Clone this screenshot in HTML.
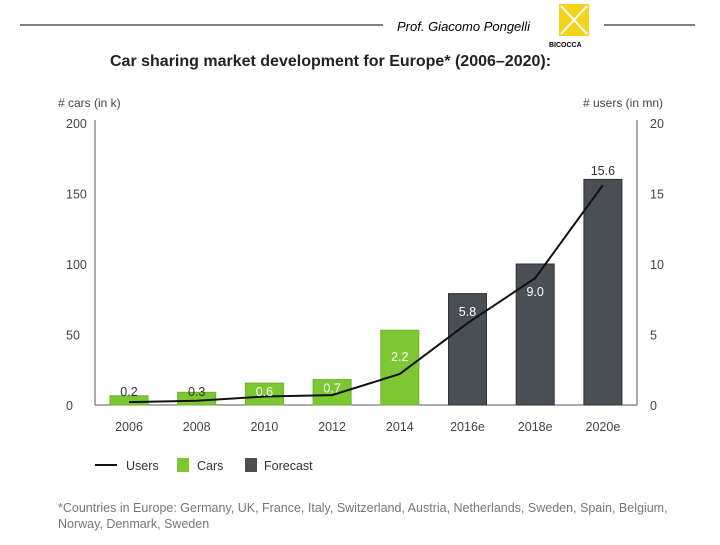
<!DOCTYPE html>
<html><head><meta charset="utf-8"><style>
body{margin:0;background:#fff;width:720px;height:540px;overflow:hidden;font-family:"Liberation Sans",sans-serif}
</style></head><body>
<svg width="720" height="540" font-family="Liberation Sans, sans-serif">
<line x1="20" y1="25" x2="383" y2="25" stroke="#000" stroke-width="1"/>
<line x1="604" y1="25" x2="695" y2="25" stroke="#000" stroke-width="1"/>
<text x="397" y="31" font-size="13" font-style="italic" fill="#000">Prof. Giacomo Pongelli</text>
<g>
<rect x="559" y="4" width="30" height="32" fill="#f5d21c"/>
<path d="M561 6 L587 34 M587 6 L561 34" stroke="#fff" stroke-width="2"/>
<text x="549" y="47" font-size="7" font-weight="bold" fill="#000">BICOCCA</text>
</g>
<text x="110" y="66" font-size="16" font-weight="bold" fill="#222">Car sharing market development for Europe* (2006–2020):</text>
<text x="58" y="107" font-size="12" fill="#444"># cars (in k)</text>
<text x="663" y="107" font-size="12" fill="#444" text-anchor="end"># users (in mn)</text>
<g id="ticks"></g>
<g id="bars"></g>
<g id="line"></g>
<g id="labels"></g>
<g>
<line x1="95" y1="465" x2="117" y2="465" stroke="#111" stroke-width="2"/>
<text x="126" y="470" font-size="12.5" fill="#333">Users</text>
<rect x="177" y="458" width="12" height="14" fill="#7dc832"/>
<text x="197" y="470" font-size="12.5" fill="#333">Cars</text>
<rect x="245" y="458" width="12" height="14" fill="#4a4f56"/>
<text x="264" y="470" font-size="12.5" fill="#333">Forecast</text>
</g>
<text x="58" y="512" font-size="12.5" fill="#777">*Countries in Europe: Germany, UK, France, Italy, Switzerland, Austria, Netherlands, Sweden, Spain, Belgium,</text>
<text x="58" y="528" font-size="12.5" fill="#777">Norway, Denmark, Sweden</text>
</svg>
<script>
const categories=["2006","2008","2010","2012","2014","2016e","2018e","2020e"];
const cars=[6.5,9,15.5,18,53,79,100,160];
const users=[0.2,0.3,0.6,0.7,2.2,5.8,9.0,15.6];
const forecast=[false,false,false,false,false,true,true,true];
const leftTicks=[0,50,100,150,200];
const rightTicks=[0,5,10,15,20];
const NS="http://www.w3.org/2000/svg";
const x0=95,x1=637,y0=405,yTop=123;
const yL=v=>y0-(v/200)*(y0-yTop);
const yR=v=>y0-(v/20)*(y0-yTop);
const step=67.7;
const xC=i=>129+i*step;
function mk(t,a,p){const e=document.createElementNS(NS,t);for(const k in a)e.setAttribute(k,a[k]);document.getElementById(p).appendChild(e);return e;}
const ax1=mk('line',{x1:x0,y1:yTop-3,x2:x0,y2:y0,stroke:'#555'},'ticks');


const ax2=mk('line',{x1:x1,y1:yTop-3,x2:x1,y2:y0,stroke:'#555'},'ticks');


leftTicks.forEach(v=>{const t=mk('text',{x:66,y:yL(v)+5,'font-size':12.5,fill:'#444'},'ticks');t.textContent=v;

});
rightTicks.forEach(v=>{const t=mk('text',{x:650,y:yR(v)+5,'font-size':12.5,fill:'#444'},'ticks');t.textContent=v;

});
categories.forEach((c,i)=>{
const r=mk('rect',{x:xC(i)-19,y:yL(cars[i]),width:38,height:y0-yL(cars[i]),fill:forecast[i]?'#4a4f56':'#7dc832',stroke:forecast[i]?'#2e3136':'#6ab02a'},'bars');


const t=mk('text',{x:xC(i),y:431,'font-size':12.5,fill:'#444','text-anchor':'middle'},'labels');t.textContent=c;


});
const base=mk('line',{x1:x0,y1:y0,x2:x1,y2:y0,stroke:'#555'},'ticks');


const pl=mk('polyline',{points:users.map((u,i)=>xC(i)+','+yR(u)).join(' '),fill:'none',stroke:'#111','stroke-width':2},'line');


users.forEach((u,i)=>{
let ly;
if(i<4)ly=Math.min(yL(cars[i])+13,396);
else if(i==4)ly=yR(u)-13;
else if(i==5)ly=yR(u)-7;
else if(i==6)ly=yR(u)+18;
else ly=yR(u)-10;
const dark=(i<2||i==7);
const t=mk('text',{x:xC(i),y:ly,'font-size':12.5,fill:dark?'#333':'#fff','text-anchor':'middle'},'labels');
t.textContent=u.toFixed(1);


});
</script>
</body></html>
